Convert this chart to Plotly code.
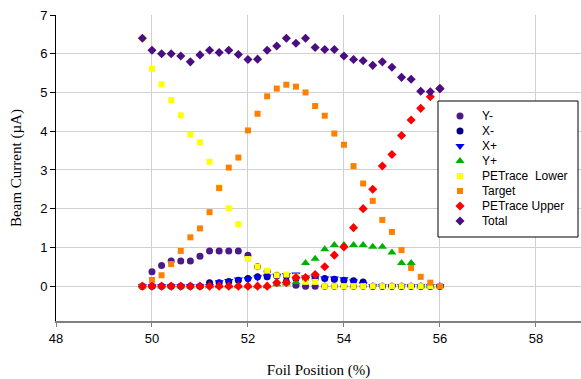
import plotly.graph_objects as go

foil_position = [49.8, 50.0, 50.2, 50.4, 50.6, 50.8, 51.0, 51.2, 51.4, 51.6, 51.8,
                 52.0, 52.2, 52.4, 52.6, 52.8, 53.0, 53.2, 53.4, 53.6, 53.8, 54.0,
                 54.2, 54.4, 54.6, 54.8, 55.0, 55.2, 55.4, 55.6, 55.8, 56.0]

y_minus = [0.00, 0.37, 0.53, 0.65, 0.65, 0.65, 0.77, 0.91, 0.91, 0.91, 0.91,
           0.80, 0.50, 0.38, 0.28, 0.12, 0.02, 0.00, 0.00, 0.00, 0.00, 0.00,
           0.00, 0.00, 0.00, 0.00, 0.00, 0.00, 0.00, 0.00, 0.00, 0.00]
x_minus = [0.00, 0.00, 0.00, 0.00, 0.00, 0.00, 0.00, 0.09, 0.09, 0.12, 0.15,
           0.20, 0.24, 0.24, 0.26, 0.26, 0.20, 0.20, 0.20, 0.20, 0.18, 0.15,
           0.14, 0.11, 0.00, 0.00, 0.00, 0.00, 0.00, 0.00, 0.00, 0.00]
x_plus = [0.00, 0.00, 0.00, 0.00, 0.00, 0.00, 0.00, 0.00, 0.10, 0.13, 0.17,
          0.18, 0.22, 0.25, 0.27, 0.28, 0.30, 0.22, 0.22, 0.20, 0.20, 0.18,
          0.12, 0.05, 0.00, 0.00, 0.00, 0.00, 0.00, 0.00, 0.00, 0.00]
y_plus = [0.00, 0.00, 0.00, 0.00, 0.00, 0.00, 0.00, 0.00, 0.00, 0.00, 0.00,
          0.00, 0.00, 0.00, 0.05, 0.07, 0.10, 0.60, 0.71, 0.95, 1.06, 1.06,
          1.06, 1.06, 1.02, 1.02, 0.87, 0.60, 0.60, 0.00, 0.00, 0.00]
petrace_lower = [6.40, 5.61, 5.21, 4.80, 4.41, 3.91, 3.71, 3.21, 2.55, 2.01, 1.60,
                 0.70, 0.50, 0.40, 0.28, 0.30, 0.25, 0.11, 0.11, 0.00, 0.00, 0.00,
                 0.00, 0.00, 0.00, 0.00, 0.00, 0.00, 0.00, 0.00, 0.00, 0.00]
target = [0.00, 0.16, 0.28, 0.57, 0.91, 1.26, 1.49, 1.91, 2.53, 3.06, 3.32,
          4.02, 4.45, 4.90, 5.10, 5.20, 5.15, 5.00, 4.65, 4.40, 3.94, 3.65,
          3.10, 2.65, 2.20, 1.71, 1.40, 0.93, 0.47, 0.24, 0.09, 0.00]
petrace_upper = [0.00, 0.00, 0.00, 0.00, 0.00, 0.00, 0.00, 0.00, 0.00, 0.00, 0.00,
                 0.00, 0.00, 0.00, 0.09, 0.09, 0.22, 0.22, 0.30, 0.50, 0.80, 1.01,
                 1.51, 2.00, 2.50, 3.10, 3.40, 3.89, 4.29, 4.59, 4.89, 5.10]
total = [6.40, 6.09, 6.00, 6.00, 5.94, 5.79, 5.97, 6.09, 6.03, 6.09, 5.98,
         5.85, 5.86, 6.09, 6.20, 6.40, 6.27, 6.40, 6.16, 6.11, 6.11, 5.94,
         5.85, 5.82, 5.70, 5.79, 5.65, 5.39, 5.34, 5.03, 5.02, 5.10]

x_ticks = [48, 50, 52, 54, 56, 58]
y_ticks = [0, 1, 2, 3, 4, 5, 6, 7]

series_names = ["Y-", "X-", "X+", "Y+", "PETrace\u00a0 Lower", "Target", "PETrace Upper", "Total"]
series_values = [y_minus, x_minus, x_plus, y_plus, petrace_lower, target, petrace_upper, total]
series_symbols = ["circle", "circle", "triangle-down", "triangle-up", "square", "square", "diamond", "diamond"]
series_sizes = [7, 7, 8, 8, 6, 6, 7, 7]
series_colors = ["#4B1A86", "#00007F", "#0000FF", "#00B000", "#FFFF00", "#FF8000", "#FF0000", "#4B0E82"]

# plot area in pixels
L, R, T, B = 56, 581, 15, 321
W, H = 581, 379

fig = go.Figure()
for name, vals, sym, size, color in zip(series_names, series_values, series_symbols, series_sizes, series_colors):
    fig.add_trace(go.Scatter(
        x=foil_position, y=vals, mode="markers", name=name, showlegend=False,
        marker=dict(symbol=sym, size=size, color=color, line=dict(width=0)),
    ))

# manual legend on an overlay axis measured in pixels
leg_left, leg_top, leg_right, leg_bottom = 438, 101, 578, 237
sym_x, txt_x, first_y, step = 460, 480, 116, 15
fig.add_trace(go.Scatter(
    x=[leg_left, leg_right, leg_right, leg_left, leg_left],
    y=[leg_top, leg_top, leg_bottom, leg_bottom, leg_top],
    xaxis="x2", yaxis="y2", mode="lines", fill="toself", fillcolor="white",
    line=dict(color="black", width=1), showlegend=False, hoverinfo="skip",
))
for k, (name, sym, size, color) in enumerate(zip(series_names, series_symbols, series_sizes, series_colors)):
    yy = first_y + k * step
    fig.add_trace(go.Scatter(x=[sym_x], y=[yy], xaxis="x2", yaxis="y2", mode="markers", showlegend=False,
                             hoverinfo="skip",
                             marker=dict(symbol=sym, size=size, color=color, line=dict(width=0))))
    fig.add_annotation(x=txt_x, y=yy, xref="x2", yref="y2", text=name, showarrow=False,
                       xanchor="left", yanchor="middle",
                       font=dict(family="Liberation Sans, Arial, sans-serif", size=12, color="black"))

fig.update_layout(
    width=W, height=H,
    margin=dict(l=L, r=W - R, t=T, b=H - B, autoexpand=False),
    paper_bgcolor="white", plot_bgcolor="white",
    font=dict(family="Liberation Sans, Arial, sans-serif", size=12, color="black"),
    showlegend=False,
    xaxis2=dict(overlaying="x", range=[L, R], visible=False, domain=[0, 1]),
    yaxis2=dict(overlaying="y", range=[B, T], visible=False, domain=[0, 1]),
    xaxis=dict(
        range=[48, 58.94], tickvals=x_ticks, ticks="outside", ticklen=4,
        tickcolor="#808080", showline=True, linecolor="#808080", linewidth=2,
        showgrid=True, gridcolor="#D0D0D0", gridwidth=1, zeroline=False, automargin=False,
        tickfont=dict(size=13),
        title=dict(text="Foil Position (%)", font=dict(family="Liberation Serif, Times New Roman, serif", size=15), standoff=20),
    ),
    yaxis=dict(
        range=[-0.9, 7], tickvals=y_ticks, ticks="outside", ticklen=5,
        tickcolor="black", showline=True, linecolor="black", linewidth=1,
        showgrid=True, gridcolor="#D0D0D0", gridwidth=1, zeroline=False, automargin=False,
        tickfont=dict(size=13),
        title=dict(text="Beam Current (\u00b5A)", font=dict(family="Liberation Serif, Times New Roman, serif", size=15), standoff=14),
    ),
)

fig.write_html("out.html", config={"displayModeBar": False},
               post_script="document.body.style.margin='0';document.body.style.overflow='hidden';")
